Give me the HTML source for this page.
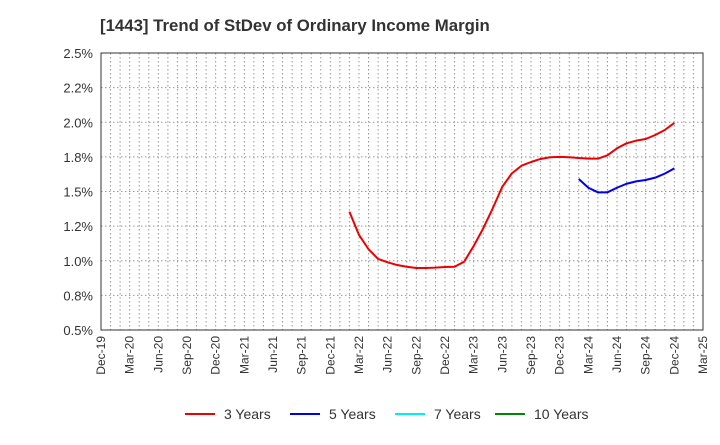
<!DOCTYPE html>
<html><head><meta charset="utf-8"><style>
body{margin:0;background:#fff;font-family:"Liberation Sans",sans-serif;}
</style></head><body>
<svg width="720" height="440" xmlns="http://www.w3.org/2000/svg" font-family="Liberation Sans, sans-serif">
<text x="100" y="31" font-size="16.8" font-weight="bold" fill="#333">[1443]  Trend of StDev of Ordinary Income Margin</text>
<g id="grid"></g>
<rect x="101" y="53" width="602" height="277" fill="none" stroke="#333" stroke-width="1"/>
<g id="yt"></g><g id="xt"></g><g id="series"></g>
<g id="legend"></g>
</svg>
<script>
const yTicks=[0.5,0.75,1.0,1.25,1.5,1.75,2.0,2.25,2.5];
const yLabels=["0.5%","0.8%","1.0%","1.2%","1.5%","1.8%","2.0%","2.2%","2.5%"];
const xLabels=["Dec-19","Mar-20","Jun-20","Sep-20","Dec-20","Mar-21","Jun-21","Sep-21","Dec-21","Mar-22","Jun-22","Sep-22","Dec-22","Mar-23","Jun-23","Sep-23","Dec-23","Mar-24","Jun-24","Sep-24","Dec-24","Mar-25"];
const s3Start=26;
const s3=[1.354,1.186,1.083,1.013,0.989,0.969,0.957,0.948,0.948,0.950,0.955,0.957,0.993,1.106,1.234,1.379,1.535,1.631,1.686,1.713,1.735,1.747,1.750,1.747,1.742,1.737,1.737,1.761,1.812,1.848,1.867,1.879,1.908,1.944,1.995];
const s5Start=50;
const s5=[1.590,1.527,1.494,1.494,1.527,1.556,1.573,1.583,1.600,1.629,1.667];
const legendNames=["3 Years","5 Years","7 Years","10 Years"];
const legendColors=["#e00","#00e","#0ee","#080"];
const NS="http://www.w3.org/2000/svg";
const X=m=>101+m*602/63, Y=v=>330-(v-0.5)*277/2;
function mk(t,a,p){const e=document.createElementNS(NS,t);for(const k in a)e.setAttribute(k,a[k]);document.getElementById(p).appendChild(e);return e;}
for(let m=1;m<63;m++){const l=mk('line',{x1:X(m),x2:X(m),y1:53,y2:330,stroke:'#999','stroke-dasharray':'1.5,2.5','stroke-width':1},'grid');

}
yTicks.forEach((v,i)=>{if(i>0&&i<yTicks.length-1){const l=mk('line',{x1:101,x2:703,y1:Y(v),y2:Y(v),stroke:'#999','stroke-dasharray':'1.5,2.5'},'grid');

}
const t=mk('text',{x:93,y:Y(v)+5,'text-anchor':'end','font-size':13,fill:'#333'},'yt');t.textContent=yLabels[i];

});
xLabels.forEach((s,i)=>{const x=X(i*3);const t=mk('text',{x:0,y:0,'text-anchor':'end','font-size':12,fill:'#333',transform:`translate(${x+4},336) rotate(-90)`},'xt');t.textContent=s;

});
function line(arr,st,c,n){const p=mk('polyline',{points:arr.map((v,i)=>X(st+i)+','+Y(v)).join(' '),fill:'none',stroke:c,'stroke-width':2,'stroke-linejoin':'round'},'series');

}
line(s3,s3Start,'#e00','line-3-years');
line(s5,s5Start,'#00e','line-5-years');
const lx=[185,290,395,495];
legendNames.forEach((n,i)=>{const g=mk('g',{},'legend');


const l=document.createElementNS(NS,'line');l.setAttribute('x1',lx[i]);l.setAttribute('x2',lx[i]+30);l.setAttribute('y1',414);l.setAttribute('y2',414);l.setAttribute('stroke',legendColors[i]);l.setAttribute('stroke-width',2);g.appendChild(l);
const t=document.createElementNS(NS,'text');t.setAttribute('x',lx[i]+39);t.setAttribute('y',419);t.setAttribute('font-size',14);t.setAttribute('fill','#333');t.textContent=n;g.appendChild(t);});
</script>
</body></html>
